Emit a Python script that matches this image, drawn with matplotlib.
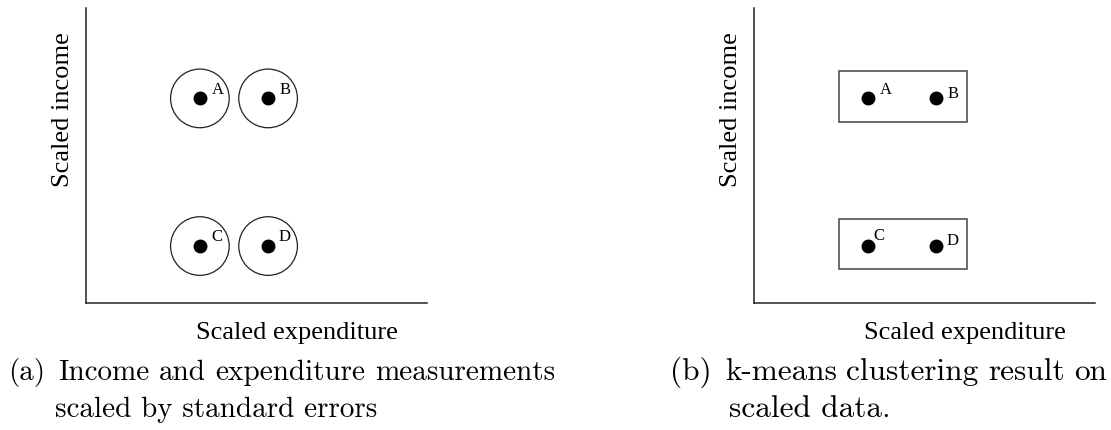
import matplotlib

matplotlib.use("Agg")
import matplotlib.pyplot as plt
from matplotlib.patches import Circle, Rectangle

# point data (scaled units, same in both panels)
names = ["A", "B", "C", "D"]
exp_vals = [3.34, 5.34, 3.34, 5.34]
inc_vals = [6.00, 6.00, 1.67, 1.67]
std_err = 0.86
clusters = [["A", "B"], ["C", "D"]]

# label offsets in points (dx, dy) for each panel
offs_a = [(13, 7), (12, 7), (12, 7), (12, 7)]
offs_b = [(13, 7), (12, 4), (8, 8), (12, 4)]

captions = [
    ["(a) Income and expenditure measurements", "scaled by standard errors"],
    ["(b) k-means clustering result on", "scaled data."],
]

xlab = "Scaled expenditure"
ylab = "Scaled income"

W, H = 1111, 431
fig = plt.figure(figsize=(W / 100, H / 100), dpi=100)

serif = "Liberation Serif"


def make_axes(left_px):
    ax = fig.add_axes([left_px / W, (H - 304) / H, 341 / W, 295 / H])
    ax.set_xlim(0, 10)
    ax.set_ylim(0, 295 / 34.1)
    for s in ["top", "right"]:
        ax.spines[s].set_visible(False)
    for s in ["left", "bottom"]:
        ax.spines[s].set_linewidth(1.1)
        ax.spines[s].set_color("#222222")
    ax.set_xticks([])
    ax.set_yticks([])
    ax.text(0.62, -0.06, xlab, transform=ax.transAxes, ha="center", va="top",
            fontsize=19, family=serif)
    ax.text(-0.068, 0.66, ylab, transform=ax.transAxes, ha="center", va="center",
            rotation=90, fontsize=19, family=serif)
    return ax


def draw_labels(ax, offs):
    for n, x, y, (dx, dy) in zip(names, exp_vals, inc_vals, offs):
        ax.annotate(n, (x, y), xytext=(dx, dy), textcoords="offset points",
                    ha="center", va="center", fontsize=12, family=serif)


def justified(line, x0, x1, y, size):
    # spread the words of a caption line between x0 and x1 (pixels),
    # the gap after the "(a)" label a bit wider, like the subcaption
    r = fig.canvas.get_renderer()
    words = line.split()
    ts = [fig.text(0, 1 - y / H, w, ha="left", va="baseline",
                   fontsize=size, family="cmr10") for w in words]
    widths = [t.get_window_extent(r).width for t in ts]
    weights = [1.4] + [1.0] * (len(words) - 2)
    unit = (x1 - x0 - sum(widths)) / sum(weights)
    x = x0
    for i, (t, w) in enumerate(zip(ts, widths)):
        t.set_x(x / W)
        if i < len(weights):
            x += w + unit * weights[i]


# (a) measurements with standard error circles
ax1 = make_axes(86)
for x, y in zip(exp_vals, inc_vals):
    ax1.add_patch(Circle((x, y), std_err, fill=False, lw=0.9, ec="#222222"))
ax1.plot(exp_vals, inc_vals, "o", color="black", ms=9)
draw_labels(ax1, offs_a)

# (b) k-means clusters
ax2 = make_axes(754)
for members in clusters:
    idx = [names.index(m) for m in members]
    xs = [exp_vals[i] for i in idx]
    ys = [inc_vals[i] for i in idx]
    x0, x1 = min(xs) - 0.86, max(xs) + 0.9
    y0, y1 = min(ys) - 0.68, max(ys) + 0.8
    ax2.add_patch(Rectangle((x0, y0), x1 - x0, y1 - y0, fill=False,
                            lw=1.1, ec="#444444"))
ax2.plot(exp_vals, inc_vals, "o", color="black", ms=9)
draw_labels(ax2, offs_b)

# captions, first line justified, second line left aligned
justified(captions[0][0], 8, 555, 380, 21)
justified(captions[1][0], 670, 1107, 380, 22.5)
for (l1, l2), x2, size in zip(captions, [55, 729], [21, 22.5]):
    fig.text(x2 / W, 1 - 417 / H, l2, ha="left", va="baseline",
             fontsize=size, family="cmr10")

fig.savefig("out.png", dpi=100)
